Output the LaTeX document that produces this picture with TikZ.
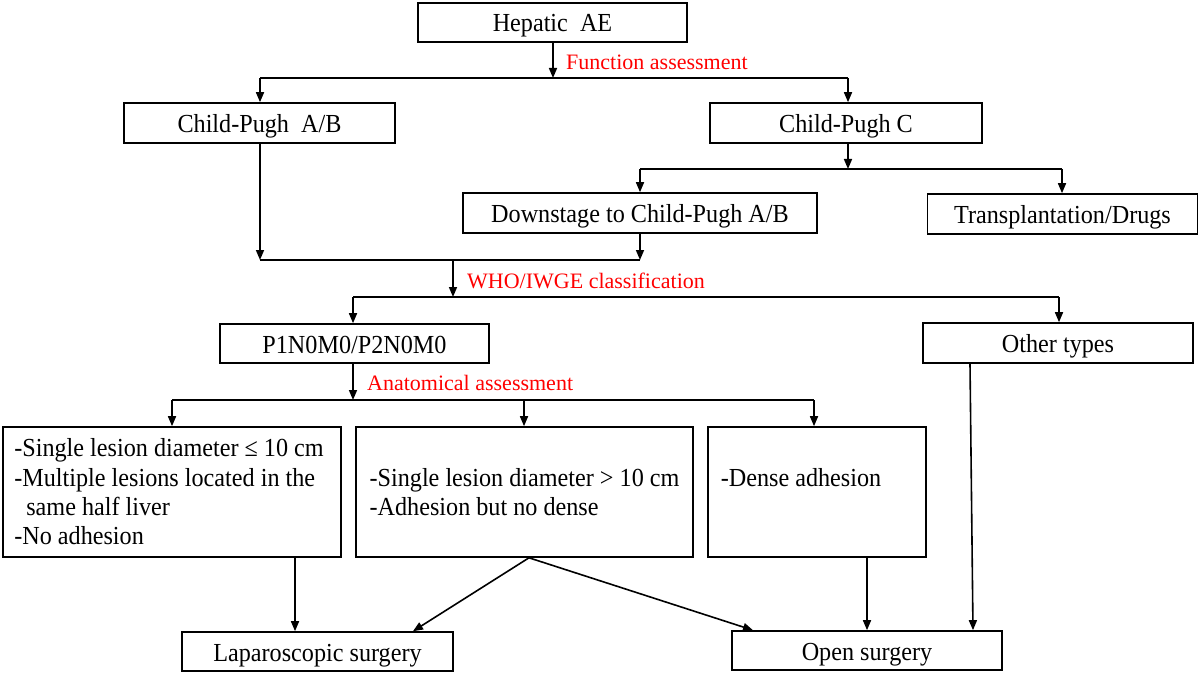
\documentclass[tikz,border=0pt]{standalone}
\usepackage{fontspec}
\setmainfont{Liberation Serif}
\newfontfamily\boxfont{Liberation Serif}[FakeStretch=0.93]
\usetikzlibrary{arrows.meta}
\begin{document}
\begin{tikzpicture}[x=1pt,y=-1pt,
  box/.style={draw, line width=1.6pt, inner sep=0pt, font=\boxfont\fontsize{26}{29.3}\selectfont, align=center},
  sbox/.style={box, text height=19pt, text depth=0pt},
  lbox/.style={box, align=left},
  lbl/.style={text=red, font=\fontsize{22}{26}\selectfont, anchor=west, inner sep=0pt},
  arr/.style={line width=1.6pt, -{Triangle[length=10pt,width=8pt]}},
  ln/.style={line width=1.6pt}]
\useasboundingbox (0,0) rectangle (1200,674);

% boxes
\node[sbox, minimum width=269pt, minimum height=39pt] (hep) at (552.5,22.5) {Hepatic\ \ AE};
\node[sbox, minimum width=271pt, minimum height=40pt] (cpab) at (259.5,123) {Child-Pugh\ \ A/B};
\node[sbox, minimum width=272pt, minimum height=40pt] (cpc) at (846,123) {Child-Pugh C};
\node[sbox, minimum width=354pt, minimum height=40pt] (ds) at (640,213) {Downstage to Child-Pugh A/B};
\node[sbox, minimum width=270pt, minimum height=40pt] (tr) at (1062.5,214) {Transplantation/Drugs};
\node[sbox, minimum width=269pt, minimum height=39pt] (p1) at (354.5,343.5) {P1N0M0/P2N0M0};
\node[sbox, minimum width=270pt, minimum height=40pt] (ot) at (1058,343) {Other types};
\node[lbox, minimum width=338pt, minimum height=130pt] (b1) at (172,492)
  {-Single lesion diameter ≤ 10 cm\hspace*{6pt}\\-Multiple lesions located in the\\\hspace*{12pt}same half liver\\-No adhesion};
\node[lbox, minimum width=337pt, minimum height=130pt] (b2) at (524.5,492)
  {-Single lesion diameter > 10 cm\\-Adhesion but no dense};
\node[lbox, minimum width=218pt, minimum height=130pt] (b3) at (817,492)
  {-Dense adhesion\hspace*{32pt}\\\mbox{}};
\node[sbox, minimum width=271pt, minimum height=39pt] (lap) at (317.5,651.5) {Laparoscopic surgery};
\node[sbox, minimum width=270pt, minimum height=39pt] (os) at (867,650.5) {Open surgery};

% labels
\node[lbl] (la) at (566,62) {Function assessment};
\node[lbl] (lb) at (467,281) {WHO/IWGE classification};
\node[lbl] (lc) at (367,383) {Anatomical assessment};

% junction coordinates
\coordinate (j1m) at (553,78);
\coordinate (j1l) at (260,78);
\coordinate (j1r) at (848,78);
\coordinate (j2m) at (848,169);
\coordinate (j2l) at (640,169);
\coordinate (j2r) at (1062,169);
\coordinate (j3l) at (260,260);
\coordinate (j3r) at (640,260);
\coordinate (j3m) at (453,260);
\coordinate (j4m) at (453,297);
\coordinate (j4l) at (353,297);
\coordinate (j4r) at (1059,297);
\coordinate (j5m) at (353,400);
\coordinate (j5l) at (172,400);
\coordinate (j5c) at (524,400);
\coordinate (j5r) at (814,400);
\coordinate (c295) at (295,0);
\coordinate (c529) at (529,0);
\coordinate (c413) at (413,0);
\coordinate (c753) at (753,0);
\coordinate (c867) at (867,0);
\coordinate (c970) at (970,0);
\coordinate (c973) at (973,0);

% level 1
\draw[arr] (hep.south -| j1m) -- (j1m);
\draw[ln] (j1l) -- (j1r);
\draw[arr] (j1l) -- (cpab.north -| j1l);
\draw[arr] (j1r) -- (cpc.north -| j1r);
% level 2
\draw[arr] (cpc.south -| j2m) -- (j2m);
\draw[ln] (j2l) -- (j2r);
\draw[arr] (j2l) -- (ds.north -| j2l);
\draw[arr] (j2r) -- (tr.north -| j2r);
% level 3
\draw[arr] (cpab.south -| j3l) -- (j3l);
\draw[arr] (ds.south -| j3r) -- (j3r);
\draw[ln] (j3l) -- (j3r);
\draw[arr] (j3m) -- (j4m);
\draw[ln] (j4l) -- (j4r);
\draw[arr] (j4l) -- (p1.north -| j4l);
\draw[arr] (j4r) -- (ot.north -| j4r);
% level 4
\draw[arr] (p1.south -| j5m) -- (j5m);
\draw[ln] (j5l) -- (j5r);
\draw[arr] (j5l) -- (b1.north -| j5l);
\draw[arr] (j5c) -- (b2.north -| j5c);
\draw[arr] (j5r) -- (b3.north -| j5r);
% outcomes
\draw[arr] (b1.south -| c295) -- (lap.north -| c295);
\draw[arr] (b2.south -| c529) -- (lap.north -| c413);
\draw[arr] (b2.south -| c529) -- (os.north -| c753);
\draw[arr] (b3.south -| c867) -- (os.north -| c867);
\draw[arr] (ot.south -| c970) -- (os.north -| c973);
\end{tikzpicture}
\end{document}
